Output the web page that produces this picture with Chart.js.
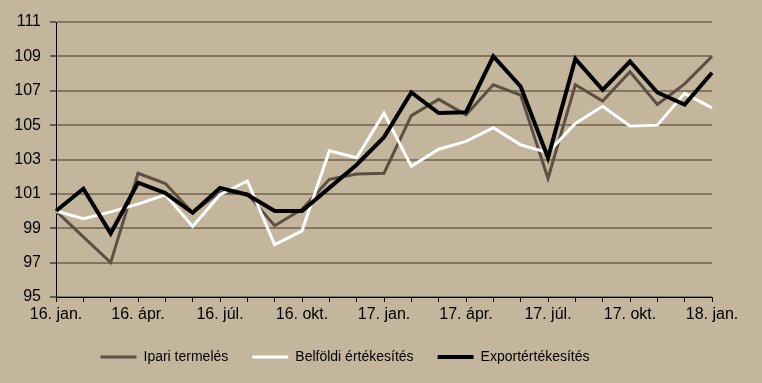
<!DOCTYPE html>
<html>
<head>
<meta charset="utf-8">
<script src="https://cdn.jsdelivr.net/npm/chart.js@4/dist/chart.umd.min.js"></script>
<style>
  html, body { margin: 0; padding: 0; background: #c4b69c; }
  #wrap { width: 762px; height: 383px; position: relative; }
</style>
</head>
<body>
<div id="wrap"><canvas id="chart" width="762" height="383"></canvas></div>
<script>
const months = [
  '16. jan.', '16. febr.', '16. márc.', '16. ápr.', '16. máj.', '16. jún.',
  '16. júl.', '16. aug.', '16. szept.', '16. okt.', '16. nov.', '16. dec.',
  '17. jan.', '17. febr.', '17. márc.', '17. ápr.', '17. máj.', '17. jún.',
  '17. júl.', '17. aug.', '17. szept.', '17. okt.', '17. nov.', '17. dec.',
  '18. jan.'
];

const ipariTermeles = [
  100, 98.5, 97.0, 102.2, 101.6, 99.9, 101.1, 101.0, 99.15, 100.1, 101.85, 102.15,
  102.2, 105.55, 106.5, 105.6, 107.35, 106.75, 101.9, 107.35, 106.4, 108.1, 106.2, 107.4,
  109.0
];
const belfoldiErtekesites = [
  100, 99.55, 99.95, 100.4, 100.95, 99.1, 100.95, 101.75, 98.05, 98.85, 103.5, 103.1,
  105.7, 102.6, 103.6, 104.05, 104.85, 103.85, 103.4, 105.1, 106.1, 104.95, 105.0, 106.85,
  106.0
];
const exportErtekesites = [
  100, 101.3, 98.7, 101.65, 101.05, 99.9, 101.35, 100.95, 100.0, 100.0, 101.35, 102.7,
  104.3, 106.9, 105.7, 105.75, 109.0, 107.25, 103.1, 108.85, 107.05, 108.7, 106.9, 106.2,
  108.05
];

const yMin = 95, yMax = 111, yStep = 2;
const FONT = 'Liberation Sans, Arial, sans-serif';

// legend sits a little left of the plot centre in the original
const shiftLegend = {
  id: 'shiftLegend',
  afterLayout(chart) {
    if (!chart.legend) return;
    chart.legend.left -= 11;
    chart.legend.right -= 11;
  }
};

new Chart(document.getElementById('chart'), {
  type: 'line',
  data: {
    labels: months,
    datasets: [
      { label: 'Ipari termelés', data: ipariTermeles, borderColor: '#5e4f43', backgroundColor: '#5e4f43', borderWidth: 3, order: 2 },
      { label: 'Belföldi értékesítés', data: belfoldiErtekesites, borderColor: '#ffffff', backgroundColor: '#ffffff', borderWidth: 3, order: 1 },
      { label: 'Exportértékesítés', data: exportErtekesites, borderColor: '#000000', backgroundColor: '#000000', borderWidth: 4, order: 0 }
    ]
  },
  plugins: [shiftLegend],
  options: {
    responsive: false,
    animation: false,
    events: [],
    elements: { point: { radius: 0 }, line: { tension: 0, borderJoinStyle: 'miter' } },
    layout: { padding: { left: 0, right: 50, top: 22, bottom: 9 } },
    plugins: {
      tooltip: { enabled: false },
      legend: {
        position: 'bottom',
        labels: {
          font: { family: FONT, size: 14 },
          color: '#000',
          usePointStyle: true,
          pointStyle: 'line',
          pointStyleWidth: 36,
          padding: 24,
          sort: (a, b) => a.datasetIndex - b.datasetIndex
        }
      }
    },
    scales: {
      x: {
        offset: false,
        afterFit(scale) { scale.height = 29; },
        ticks: {
          autoSkip: false,
          maxRotation: 0,
          font: { family: FONT, size: 16 },
          color: '#000',
          padding: 3,
          callback(value, index) { return index % 3 === 0 ? months[index] : ''; }
        },
        grid: { drawOnChartArea: false, tickLength: 5, tickColor: '#000', color: '#000' },
        border: { display: true, color: '#000', width: 1 }
      },
      y: {
        min: yMin,
        max: yMax,
        afterFit(scale) { scale.width = 56; },
        ticks: {
          stepSize: yStep,
          font: { family: FONT, size: 16 },
          color: '#000',
          padding: 9
        },
        grid: { color: '#86755f', lineWidth: 2, tickLength: 6, tickColor: '#000', tickWidth: 1 },
        border: { display: true, color: '#000', width: 1 }
      }
    }
  }
});
</script>
</body>
</html>
